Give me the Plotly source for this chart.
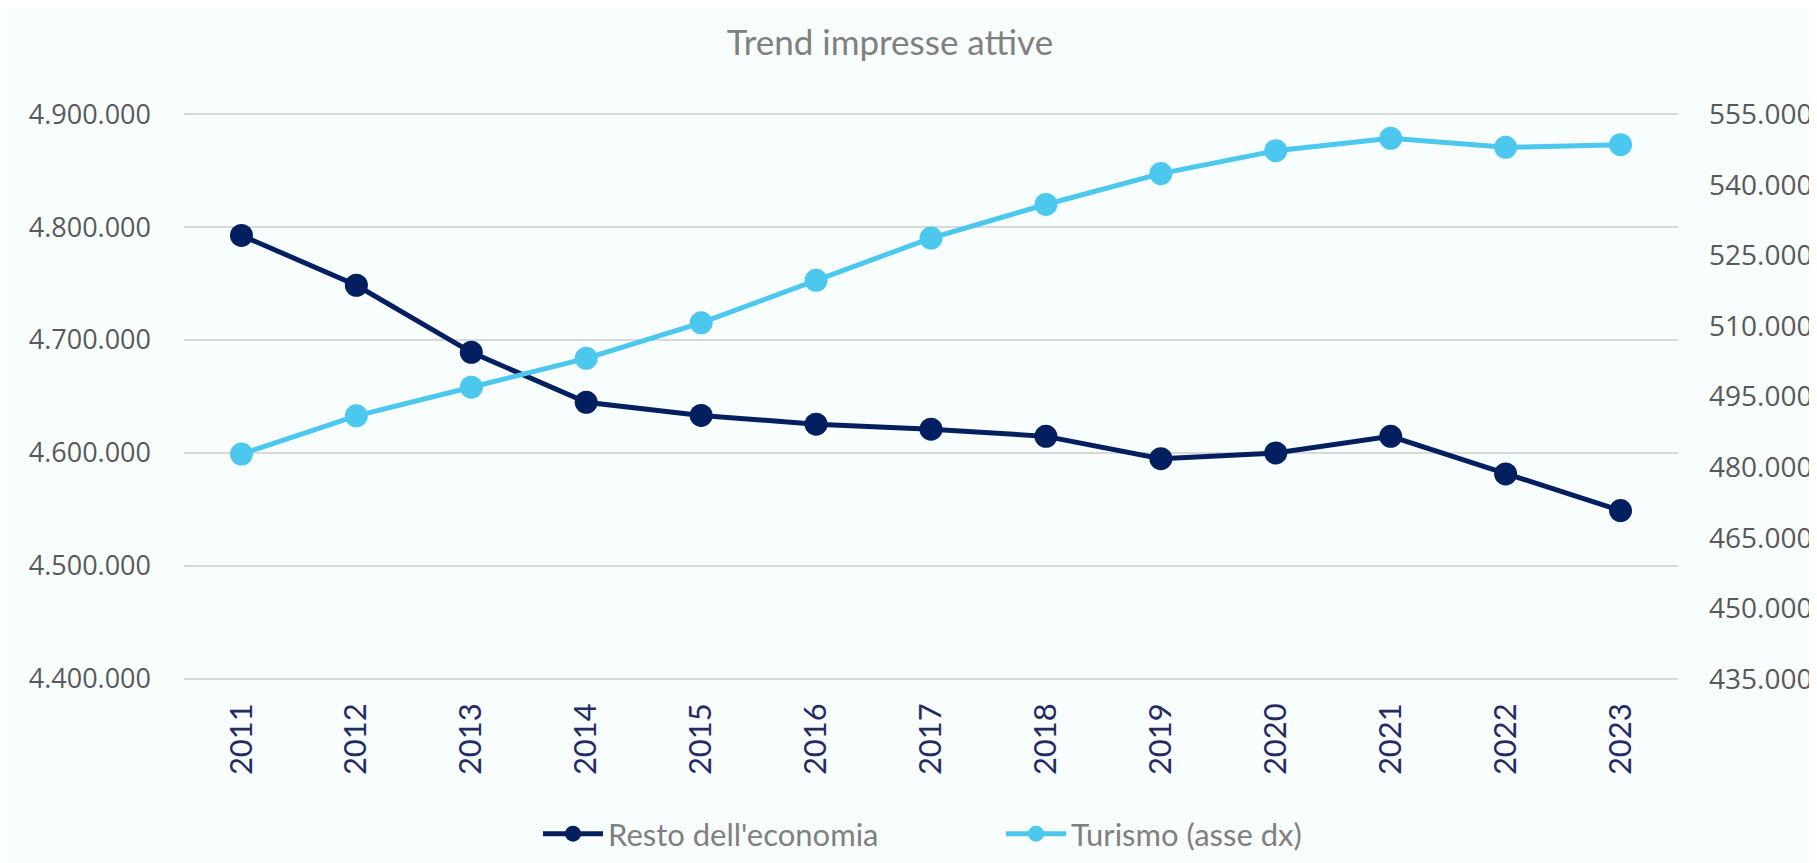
import plotly.graph_objects as go

years = ["2011", "2012", "2013", "2014", "2015", "2016", "2017", "2018", "2019", "2020", "2021", "2022", "2023"]
resto = [4792600, 4748500, 4689100, 4644900, 4633200, 4625500, 4621100, 4614700, 4594900, 4600000, 4614700, 4581400, 4549000]
turismo = [482780, 490890, 496970, 503110, 510660, 519700, 528670, 535800, 542360, 547230, 549850, 547940, 548500]

left_ticks = [4400000, 4500000, 4600000, 4700000, 4800000, 4900000]
right_ticks = [435000, 450000, 465000, 480000, 495000, 510000, 525000, 540000, 555000]

NAVY = "#041F5F"
LIGHT = "#4CC8EF"
BG = "#F8FDFE"

W, H = 1817, 863
L, R, T, B = 176, 147, 105, 191

fig = go.Figure()
fig.add_trace(go.Scatter(
    x=years, y=resto, name="Resto dell'economia", mode="lines+markers",
    line=dict(color=NAVY, width=5), marker=dict(color=NAVY, size=23),
    yaxis="y"))
fig.add_trace(go.Scatter(
    x=years, y=turismo, name="Turismo (asse dx)", mode="lines+markers",
    line=dict(color=LIGHT, width=5), marker=dict(color=LIGHT, size=23),
    yaxis="y2"))

fig.update_layout(
    width=W, height=H,
    margin=dict(l=L, r=R, t=T, b=B, autoexpand=False),
    paper_bgcolor=BG,
    plot_bgcolor=BG,
    separators=",.",
    showlegend=True,
    title=dict(text="Trend impresse attive", xref="container", yref="container",
               x=882 / W, y=1 - 35 / H, xanchor="center", yanchor="middle",
               font=dict(family="Lato", size=35, color="#808080")),
    xaxis=dict(type="category", range=[-0.5, 12.5], tickangle=-90, showgrid=False,
               zeroline=False, showline=False, ticks="", ticklabelstandoff=16,
               tickfont=dict(family="Lato", size=31, color="#252A63")),
    yaxis=dict(range=[4399000, 4901000], tickvals=left_ticks, tickformat=",.0f",
               showgrid=True, gridcolor="#D9D9D9", gridwidth=2, zeroline=False,
               showline=False, ticks="", ticklabelstandoff=32,
               tickfont=dict(family="Open Sans", size=27, color="#595959")),
    yaxis2=dict(range=[434760, 555240], tickvals=right_ticks, tickformat=",.0f",
                overlaying="y", side="right", showgrid=False, zeroline=False,
                showline=False, ticks="", ticklabelstandoff=30,
                tickfont=dict(family="Open Sans", size=28, color="#595959")),
    legend=dict(orientation="h", xref="container", yref="container",
                x=530 / W, y=1 - 826 / H, xanchor="left", yanchor="middle",
                itemwidth=60, entrywidth=388, entrywidthmode="pixels",
                font=dict(family="Lato", size=31, color="#808080"),
                bgcolor="rgba(0,0,0,0)"),
)

fig.write_html("out.html")
